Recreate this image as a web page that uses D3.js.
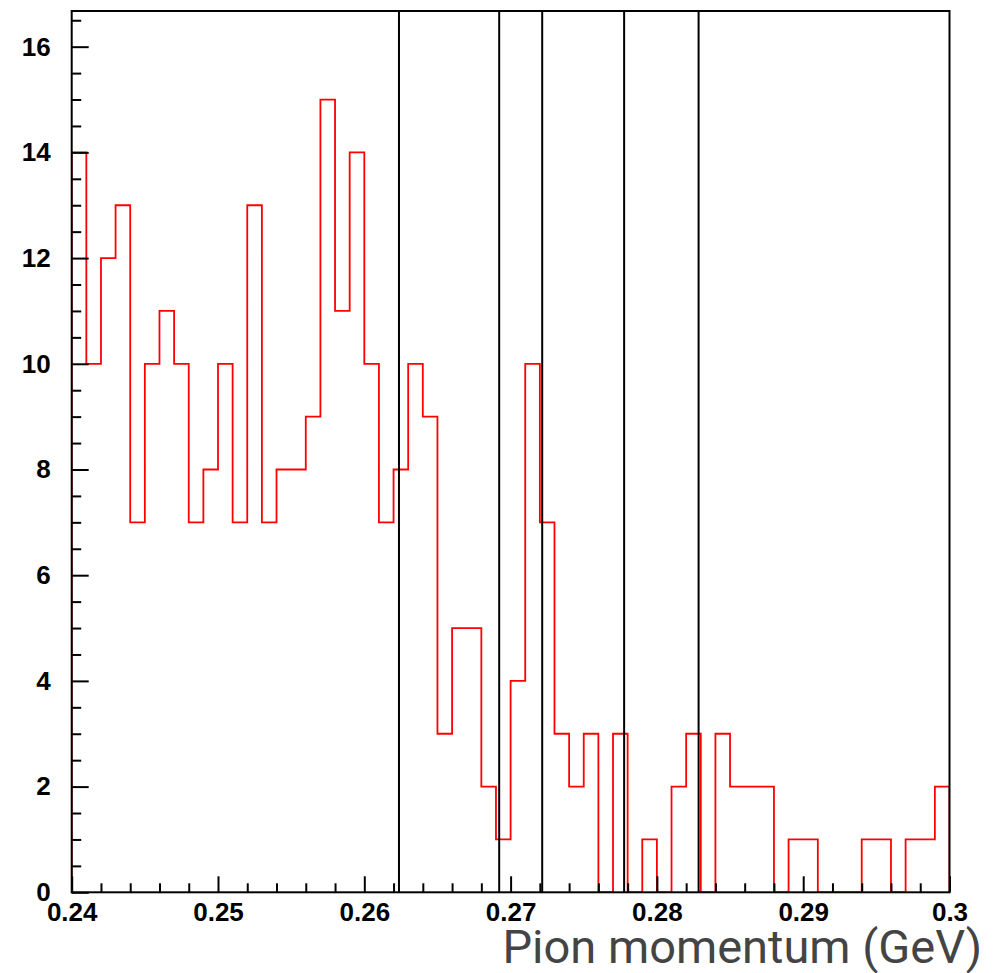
<!DOCTYPE html>
<html>
<head>
<meta charset="utf-8">
<script src="https://cdn.jsdelivr.net/npm/d3@7"></script>
<style>
  html, body { margin: 0; padding: 0; background: #fff; }
  svg { display: block; }
</style>
</head>
<body>
<svg id="chart" width="1003" height="973"></svg>
<script>
// ---- data ----
const binLow = 0.240;      // first bin lower edge (GeV)
const binWidth = 0.001;    // bin width (GeV)
const counts = [14, 10, 12, 13, 7, 10, 11, 10, 7, 8,
                10, 7, 13, 7, 8, 8, 9, 15, 11, 14,
                10, 7, 8, 10, 9, 3, 5, 5, 2, 1,
                4, 10, 7, 3, 2, 3, 0, 3, 0, 1,
                0, 2, 3, 0, 3, 2, 2, 2, 0, 1,
                1, 0, 0, 0, 1, 1, 0, 1, 1, 2];
const cutLines = [0.26237, 0.26922, 0.27216, 0.27776, 0.28285];
const xTicks = [0.24, 0.25, 0.26, 0.27, 0.28, 0.29, 0.30];
const xTickLabels = ["0.24", "0.25", "0.26", "0.27", "0.28", "0.29", "0.3"];
const yTicks = [0, 2, 4, 6, 8, 10, 12, 14, 16];
const xTitle = "Pion momentum (GeV)";

// ---- layout ----
const pLeft = 71.7, pRight = 949.5, pTop = 11, pBottom = 892.3;
const svg = d3.select("#chart");

const x = d3.scaleLinear().domain([0.24, 0.30]).range([pLeft, pRight]);
const y = d3.scaleLinear().domain([0, 16.675]).range([pBottom, pTop]);

// histogram outline
const pts = [[binLow, 0]];
counts.forEach((c, i) => {
  const lo = binLow + i * binWidth, hi = lo + binWidth;
  pts.push([lo, c], [hi, c]);
});
pts.push([binLow + counts.length * binWidth, 0]);

const clipId = "plotclip";
svg.append("clipPath").attr("id", clipId)
  .append("rect").attr("x", pLeft).attr("y", pTop)
  .attr("width", pRight - pLeft).attr("height", pBottom - pTop);

svg.append("path")
  .datum(pts)
  .attr("clip-path", `url(#${clipId})`)
  .attr("fill", "none")
  .attr("stroke", "#ff0000")
  .attr("stroke-width", 1.8)
  .attr("d", d3.line().x(d => x(d[0])).y(d => y(d[1])));

// vertical cut lines
svg.selectAll("line.cut").data(cutLines).enter().append("line")
  .attr("class", "cut")
  .attr("x1", d => x(d)).attr("x2", d => x(d))
  .attr("y1", y(0)).attr("y2", pTop)
  .attr("stroke", "#000").attr("stroke-width", 2);

const font = "'Liberation Sans', Arial, Helvetica, sans-serif";

// y axis minor
const yMinor = d3.range(0, 16.51, 0.5).filter(v => v % 2 !== 0);
const gyMinor = svg.append("g").attr("transform", `translate(${pLeft},0)`)
  .call(d3.axisLeft(y).tickValues(yMinor).tickSize(-9.5).tickFormat(""));
gyMinor.select(".domain").remove();
gyMinor.selectAll("line").attr("stroke", "#000").attr("stroke-width", 2);

// y axis major
const gy = svg.append("g").attr("transform", `translate(${pLeft},0)`)
  .call(d3.axisLeft(y).tickValues(yTicks).tickSize(-17).tickPadding(21).tickFormat(d3.format("d")));
gy.select(".domain").remove();
gy.selectAll("line").attr("stroke", "#000").attr("stroke-width", 2);
gy.selectAll("text").attr("font-family", font).attr("font-weight", "bold")
  .attr("font-size", 26).attr("fill", "#000");

// x axis minor
const xMinor = d3.range(0, 31).map(i => 0.24 + i * 0.002).filter((v, i) => i % 5 !== 0);
const gxMinor = svg.append("g").attr("transform", `translate(0,${pBottom})`)
  .call(d3.axisBottom(x).tickValues(xMinor).tickSize(-9).tickFormat(""));
gxMinor.select(".domain").remove();
gxMinor.selectAll("line").attr("stroke", "#000").attr("stroke-width", 2);

// x axis major
const gx = svg.append("g").attr("transform", `translate(0,${pBottom})`)
  .call(d3.axisBottom(x).tickValues(xTicks).tickSize(-16).tickPadding(10)
    .tickFormat((d, i) => xTickLabels[i]));
gx.select(".domain").remove();
gx.selectAll("line").attr("stroke", "#000").attr("stroke-width", 2);
gx.selectAll("text").attr("font-family", font).attr("font-weight", "bold")
  .attr("font-size", 26).attr("fill", "#000");

// frame
svg.append("rect")
  .attr("x", pLeft).attr("y", pTop)
  .attr("width", pRight - pLeft).attr("height", pBottom - pTop)
  .attr("fill", "none").attr("stroke", "#000").attr("stroke-width", 2);

// x title
svg.append("text")
  .attr("x", 982).attr("y", 963)
  .attr("text-anchor", "end")
  .attr("font-family", "Roboto, 'Liberation Sans', Arial, sans-serif")
  .attr("font-size", 47)
  .attr("fill", "#444")
  .text(xTitle);
</script>
</body>
</html>
